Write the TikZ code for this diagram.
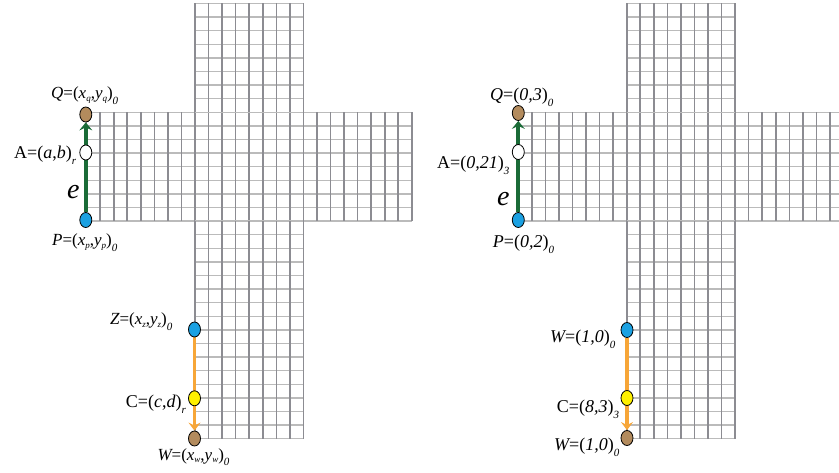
\documentclass[tikz,border=0pt]{standalone}
\usepackage{fontspec}
\setmainfont{Liberation Serif}
\usetikzlibrary{arrows.meta,shapes.geometric,backgrounds}
\definecolor{gdark}{HTML}{8C8C92}
\definecolor{glight}{HTML}{BBBBBB}
\definecolor{egreen}{HTML}{1A6B37}
\definecolor{eorange}{HTML}{F7A638}
\definecolor{dblue}{HTML}{1BA1E2}
\definecolor{dbrown}{HTML}{B38B5D}
\definecolor{dyellow}{HTML}{FFF000}
\newcommand{\cw}{13.55}
\newcommand{\ch}{13.6}
% x0, y0, ncols, nrows
\newcommand{\armgrid}[4]{%
  \foreach \j in {0,...,#4} \draw[hl] (#1,{#2+\j*\ch}) -- ({#1+#3*\cw},{#2+\j*\ch});
  \foreach \i in {0,...,#3} \draw[vl] ({#1+\i*\cw},#2) -- ({#1+\i*\cw},{#2+#4*\ch});
}
\newcommand{\iv}[1]{{\itshape #1}}
\newcommand{\sbi}[1]{\raisebox{-0.12em}{\fontsize{9}{9}\selectfont\itshape #1}}
\newcommand{\sbo}[1]{\raisebox{-0.32em}{\fontsize{11}{11}\selectfont\itshape #1}}
\tikzset{
  hl/.style={glight, line width=1.4pt},
  vl/.style={gdark, line width=1.6pt},
  dot/.style={ellipse, draw=black, line width=0.8pt, minimum width=12pt, minimum height=15pt, inner sep=0pt},
  lbl/.style={anchor=base west, inner sep=0pt, font=\fontsize{18}{18}\selectfont},
  vlbl/.style={anchor=base west, inner sep=0pt, font=\fontsize{17}{17}\selectfont},
  elbl/.style={anchor=base west, inner sep=0pt, font=\fontsize{28}{28}\selectfont\itshape},
  garrow/.style={egreen, line width=4pt, -{Stealth[length=8pt,width=13pt,inset=3pt]}},
  oarrow/.style={eorange, line width=3.5pt, -{Stealth[length=8pt,width=12pt,inset=3pt]}},
}
\begin{document}
\begin{tikzpicture}[x=1pt,y=-1pt]
\useasboundingbox (0,0) rectangle (839,473);
\begin{scope}[on background layer]
  \clip (0,0) rectangle (839,473);
  % left cross
  \armgrid{86.6}{112.3}{24}{8}
  \armgrid{195}{3.5}{8}{8}
  \armgrid{195}{221.1}{8}{16}
  % right cross
  \armgrid{518.3}{112.3}{24}{8}
  \armgrid{626.7}{3.5}{8}{8}
  \armgrid{626.7}{221.1}{8}{16}
\end{scope}
% dots, left
\node[dot, fill=dbrown] (Q1) at (85.8,114.5) {};
\node[dot, fill=white] (A1) at (85.8,152.5) {};
\node[dot, fill=dblue] (P1) at (85.8,220) {};
\node[dot, fill=dblue] (Z1) at (194.5,329.5) {};
\node[dot, fill=dyellow] (C1) at (194.5,398.3) {};
\node[dot, fill=dbrown] (W1) at (194.5,438.5) {};
% dots, right
\node[dot, fill=dbrown] (Q2) at (518.3,113) {};
\node[dot, fill=white] (A2) at (518.3,152) {};
\node[dot, fill=dblue] (P2) at (518.3,220) {};
\node[dot, fill=dblue] (Z2) at (627,330) {};
\node[dot, fill=dyellow] (C2) at (627,398) {};
\node[dot, fill=dbrown] (W2) at (627,438) {};
% arrows
\begin{scope}[on background layer]
  \draw[garrow] (P1) -- (Q1);
  \draw[oarrow] (Z1) -- (W1);
  \draw[garrow] (P2) -- (Q2);
  \draw[oarrow] (Z2) -- (W2);
\end{scope}
% labels, left
\node[vlbl] (lQ1) at (51,99) {\iv{Q}=(\iv{x}\sbi{q},\iv{y}\sbi{q})\sbo{0}};
\node[lbl] (lA1) at (14,159) {A=(\iv{a},\iv{b})\sbo{r}};
\node[elbl] (le1) at (67,199) {e};
\node[vlbl] (lP1) at (52,246) {\iv{P}=(\iv{x}\sbi{p},\iv{y}\sbi{p})\sbo{0}};
\node[vlbl] (lZ1) at (110,325) {\iv{Z}=(\iv{x}\sbi{z},\iv{y}\sbi{z})\sbo{0}};
\node[lbl] (lC1) at (125.7,407.5) {C=(\iv{c},\iv{d})\sbo{r}};
\node[vlbl] (lW1) at (157.3,460) {\iv{W}=(\iv{x}\sbi{w},\iv{y}\sbi{w})\sbo{0}};
% labels, right
\node[lbl] (lQ2) at (490,101) {\iv{Q}=(\iv{0,3})\sbo{0}};
\node[lbl] (lA2) at (437,169) {A=(\iv{0,21})\sbo{3}};
\node[elbl] (le2) at (497,206) {e};
\node[lbl] (lP2) at (492.7,248) {\iv{P}=(\iv{0,2})\sbo{0}};
\node[lbl] (lZ2) at (550,343) {\iv{W}=(\iv{1,0})\sbo{0}};
\node[lbl] (lC2) at (556.7,413) {C=(\iv{8,3})\sbo{3}};
\node[lbl] (lW2) at (554,450.7) {\iv{W}=(\iv{1,0})\sbo{0}};
\end{tikzpicture}
\end{document}
